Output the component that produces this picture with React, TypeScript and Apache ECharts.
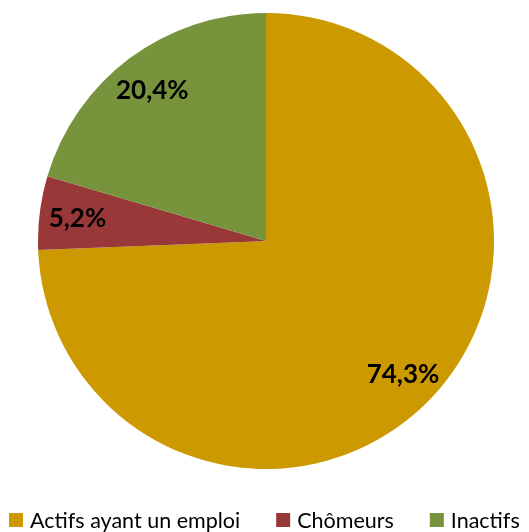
import React, { useEffect, useRef } from "react";
import * as echarts from "echarts";

const categories = ["Actifs ayant un emploi", "Chômeurs", "Inactifs"];
const values = [74.3, 5.2, 20.4];
const colors = ["#CC9900", "#993838", "#77933C"];

export default function App() {
  const ref = useRef<HTMLDivElement>(null);
  useEffect(() => {
    if (!ref.current) return;
    const chart = echarts.init(ref.current, null, { renderer: "svg" });
    const data = categories.map((name, i) => ({
      name,
      value: values[i],
      itemStyle: { color: colors[i] },
    }));
    chart.setOption({
      animation: false,
      legend: {
        data: categories,
        left: 9,
        top: 509,
        padding: 0,
        itemWidth: 14,
        itemHeight: 14,
        itemGap: 36,
        icon: "rect",
        textStyle: { fontFamily: "Lato", fontSize: 21.5, lineHeight: 22, color: "#000", padding: [0, 0, 0, 2] },
      },
      series: [
        {
          type: "pie",
          center: [266, 241],
          radius: [0, 228],
          startAngle: 90,
          clockwise: true,
          silent: true,
          label: { show: false },
          labelLine: { show: false },
          data,
        },
        {
          type: "pie",
          center: [266, 241],
          radius: [146, 228],
          startAngle: 90,
          clockwise: true,
          silent: true,
          legendHoverLink: false,
          itemStyle: { color: "rgba(0,0,0,0)" },
          label: {
            show: true,
            position: "inside",
            fontFamily: "Lato",
            fontWeight: "bold",
            fontSize: 26,
            color: "#000",
            formatter: (p: any) => p.value.toFixed(1).replace(".", ",") + "%",
          },
          labelLine: { show: false },
          data: categories.map((name, i) => ({ name: name + " ", value: values[i] })),
        },
      ],
    });
    return () => chart.dispose();
  }, []);
  return (
    <div
      ref={ref}
      style={{ position: "fixed", left: 0, top: 0, width: 529, height: 532 }}
    />
  );
}
